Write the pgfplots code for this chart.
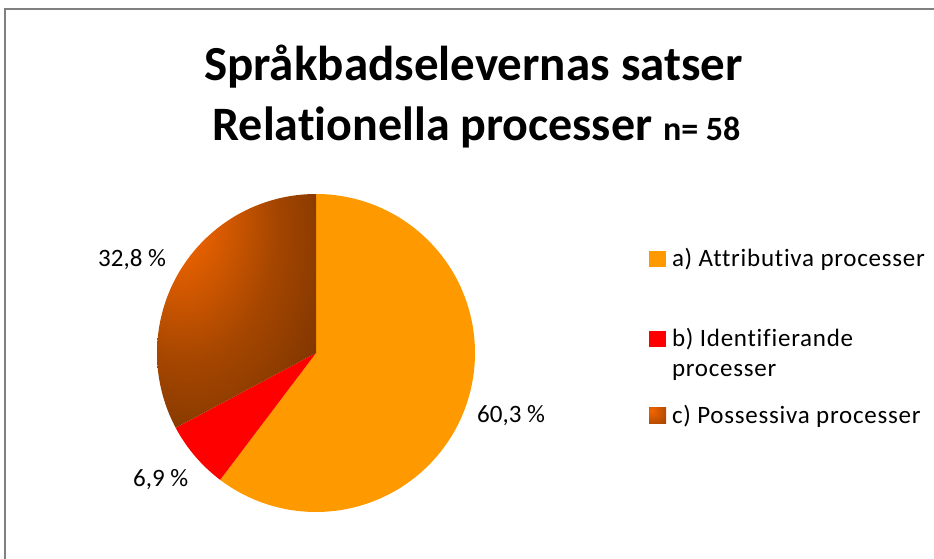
\documentclass[border=0pt]{standalone}
\usepackage{fontspec}
\setmainfont{Carlito}[Ligatures=NoCommon]
\newfontfamily\legfont{Carlito}[LetterSpace=3, Ligatures=NoCommon]
\usepackage{pgfplots}
\pgfplotsset{compat=1.18}
\definecolor{sliceA}{RGB}{255,153,0}
\definecolor{sliceB}{RGB}{255,0,0}
\definecolor{brIn}{RGB}{245,102,0}
\definecolor{brMid}{RGB}{165,70,0}
\definecolor{brOut}{RGB}{115,48,0}
\definecolor{framegray}{RGB}{128,128,128}
\pgfdeclareradialshading{brownshade}{\pgfpoint{-22bp}{24bp}}{color(0bp)=(brIn); color(6bp)=(brIn); color(28bp)=(brMid); color(50bp)=(brOut); color(100bp)=(brOut)}
\pgfdeclareradialshading{iconshade}{\pgfpoint{-18bp}{18bp}}{color(0bp)=(brIn); color(75bp)=(brOut); color(100bp)=(brOut)}
% data (percent)
\def\pa{60.3}
\def\pb{6.9}
\def\pc{32.8}
\pgfmathsetmacro\angA{90-3.6*\pa}
\pgfmathsetmacro\angB{\angA-3.6*\pb}
\pgfmathsetmacro\angC{\angB-3.6*\pc}
\begin{document}
\begin{tikzpicture}
\begin{axis}[
  width=934bp, height=559bp, scale only axis,
  xmin=0, xmax=934, ymin=0, ymax=559,
  hide axis, clip=false,
  legend image code/.code={\path[#1, draw=none] (0bp,0bp) rectangle (17bp,16bp);},
  legend style={at={(axis cs:649,312)}, anchor=north west, draw=none, fill=none,
    inner sep=0pt, outer sep=0pt, row sep=0pt, column sep=6bp,
    cells={anchor=base west}, nodes={inner sep=0pt, text depth={}},
    font=\legfont\fontsize{25bp}{30bp}\selectfont},
]
\addplot[forget plot, fill=sliceA, draw=none, domain=\angA:90, samples=150, variable=\t]
  ({316+159*cos(\t)},{206+159*sin(\t)}) -- (axis cs:316,206) -- cycle;
\addplot[forget plot, fill=sliceB, draw=none, domain=\angB:\angA, samples=30, variable=\t]
  ({316+159*cos(\t)},{206+159*sin(\t)}) -- (axis cs:316,206) -- cycle;
\addplot[forget plot, shading=brownshade, draw=none, domain=\angC:\angB, samples=90, variable=\t]
  ({316+159*cos(\t)},{206+159*sin(\t)}) -- (axis cs:316,206) -- cycle;

\addlegendimage{fill=sliceA, draw=none}
\addlegendentry{\rule[-10bp]{0pt}{30bp}a) Attributiva processer}
\addlegendimage{fill=sliceB, draw=none}
\addlegendentry{\rule[-10bp]{0pt}{80bp}b) Identifierande}
\addlegendimage{empty legend}
\addlegendentry{\rule[-10bp]{0pt}{30bp}processer}
\addlegendimage{shading=iconshade, draw=none}
\addlegendentry{\rule[-10bp]{0pt}{47bp}c) Possessiva processer}

\node[anchor=base, font=\bfseries\fontsize{49bp}{58bp}\selectfont] at (axis cs:473.5,478) {Språkbadselevernas satser};
\node[anchor=base, font=\bfseries\fontsize{48bp}{58bp}\selectfont] at (axis cs:476.5,418) {Relationella processer {\fontsize{34bp}{40bp}\selectfont n= 58}};

\node[anchor=base west, inner sep=0pt, font=\fontsize{25bp}{30bp}\selectfont] at (axis cs:477,136) {60,3 \%};
\node[anchor=base west, inner sep=0pt, font=\fontsize{25bp}{30bp}\selectfont] at (axis cs:98,292) {32,8 \%};
\node[anchor=base west, inner sep=0pt, font=\fontsize{25bp}{30bp}\selectfont] at (axis cs:133,72) {6,9 \%};

\draw[framegray, line width=2bp] (axis cs:4.5,0) -- (axis cs:4.5,549.5) -- (axis cs:934,549.5);
\end{axis}
\pgfresetboundingbox
\path (0,0) rectangle (934bp,559bp);
\end{tikzpicture}
\end{document}
